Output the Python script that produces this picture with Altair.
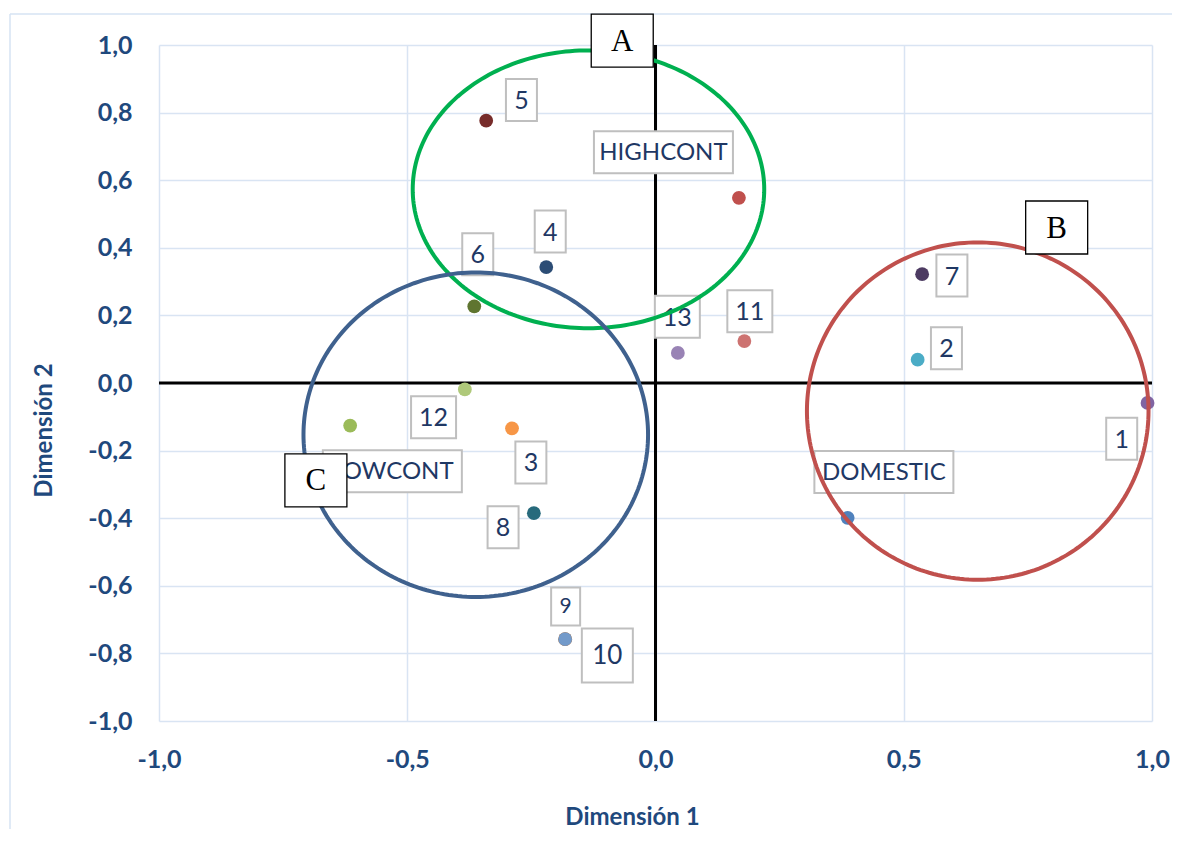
import altair as alt
import pandas as pd
import numpy as np

# ---- data ----
names = ["DOMESTIC", "HIGHCONT", "LOWCONT", "1", "2", "3", "4", "5", "6", "7",
         "8", "9", "10", "11", "12", "13"]
dim1 = [0.387, 0.168, -0.615, 0.991, 0.528, -0.289, -0.220, -0.341, -0.365, 0.537,
        -0.245, -0.182, -0.182, 0.179, -0.384, 0.045]
dim2 = [-0.399, 0.548, -0.126, -0.059, 0.069, -0.134, 0.343, 0.776, 0.227, 0.322,
        -0.385, -0.758, -0.758, 0.124, -0.019, 0.089]
colors = ["#4F81BD", "#C0504D", "#9BBB59", "#8064A2", "#4BACC6", "#F79646",
          "#2C4D75", "#772C2A", "#5F7530", "#4D3B62", "#276A7C", "#B65708",
          "#729ACA", "#CD7371", "#AFC97A", "#9983B5"]

# label anchor positions (data units)
label_x = [0.460, 0.016, -0.530, 0.939, 0.586, -0.251, -0.212, -0.270, -0.358, 0.597,
           -0.307, -0.181, -0.097, 0.190, -0.447, 0.044]
label_y = [-0.263, 0.683, -0.261, -0.165, 0.103, -0.235, 0.448, 0.837, 0.381, 0.318,
           -0.427, -0.661, -0.806, 0.212, -0.101, 0.196]
label_kind = ["word", "word", "word", "one", "one", "one", "one", "one", "one", "one",
              "one", "small", "big", "two", "two", "two"]

# group ellipses
groups = ["A", "B", "C"]
ell_cx = [-0.135, 0.649, -0.362]
ell_cy = [0.573, -0.083, -0.153]
ell_rx = [0.354, 0.344, 0.347]
ell_ry = [0.411, 0.499, 0.480]
ell_colors = ["#00B050", "#C0504D", "#3F618E"]
tag_x = [-0.067, 0.808, -0.684]
tag_y = [1.013, 0.460, -0.288]

x_ticks = [-1.0, -0.5, 0.0, 0.5, 1.0]
y_ticks = [-1.0, -0.8, -0.6, -0.4, -0.2, 0.0, 0.2, 0.4, 0.6, 0.8, 1.0]

# ---- tables ----
pts = pd.DataFrame({"name": names, "d1": dim1, "d2": dim2, "col": colors,
                    "lx": label_x, "ly": label_y, "kind": label_kind})

t = np.linspace(0, 2 * np.pi, 241)
rows = []
for g, cx, cy, rx, ry in zip(groups, ell_cx, ell_cy, ell_rx, ell_ry):
    for i, tt in enumerate(t):
        rows.append({"g": g, "i": i, "x": cx + rx * np.cos(tt), "y": cy + ry * np.sin(tt)})
ell = pd.DataFrame(rows)
tags = pd.DataFrame({"g": groups, "x": tag_x, "y": tag_y})

xs = alt.Scale(domain=[-1, 1], nice=False, zero=False)
ys = alt.Scale(domain=[-1, 1], nice=False, zero=False)

TICK_COL = "#1F497D"
LAB_COL = "#1F3864"
FONT = "Lato"

lab_expr = "(datum.value < 0 ? '-' : '') + replace(format(abs(datum.value), '.1f'), '.', ',')"

x_axis = alt.Axis(values=x_ticks, labelExpr=lab_expr, title="Dimensión 1",
                  grid=True, gridColor="#D9E4F3", gridWidth=1.5, domain=False, ticks=False,
                  labelFont=FONT, labelFontWeight="bold", labelFontSize=25, labelColor=TICK_COL,
                  labelPadding=26, labelFlush=False,
                  titleFont=FONT, titleFontWeight="bold", titleFontSize=24, titleColor=TICK_COL,
                  titleX=473, titleY=96, titleAlign="center", titleBaseline="middle")
y_axis = alt.Axis(values=y_ticks, labelExpr=lab_expr, title="Dimensión 2",
                  grid=True, gridColor="#D9E4F3", gridWidth=1.5, domain=False, ticks=False,
                  labelFont=FONT, labelFontWeight="bold", labelFontSize=25, labelColor=TICK_COL,
                  labelPadding=27, labelFlush=False,
                  titleFont=FONT, titleFontWeight="bold", titleFontSize=24, titleColor=TICK_COL,
                  titleX=-115, titleY=385, titleAlign="center", titleBaseline="middle",
                  titleAngle=270)

base = alt.Chart(pts)

# axes frame (grid) carrier
grid = base.mark_point(opacity=0).encode(
    x=alt.X("d1:Q", scale=xs, axis=x_axis),
    y=alt.Y("d2:Q", scale=ys, axis=y_axis),
)

zero_v = alt.Chart(pd.DataFrame({"z": [0.0]})).mark_rule(color="black", strokeWidth=3).encode(
    x=alt.X("z:Q", scale=xs))
zero_h = alt.Chart(pd.DataFrame({"z": [0.0]})).mark_rule(color="black", strokeWidth=3).encode(
    y=alt.Y("z:Q", scale=ys))

points = base.mark_circle(size=190, opacity=1).encode(
    x=alt.X("d1:Q", scale=xs),
    y=alt.Y("d2:Q", scale=ys),
    color=alt.Color("col:N", scale=None),
)


def box_layer(kind, w, h, fs):
    s = max(w, h)
    a, b = w / s, h / s
    path = f"M{-a},{-b}H{a}V{b}H{-a}Z"
    sub = base.transform_filter(alt.datum.kind == kind)
    box = sub.mark_point(shape=path, size=s * s, filled=True, fill="white",
                         stroke="#BFBFBF", strokeWidth=2, opacity=1).encode(
        x=alt.X("lx:Q", scale=xs), y=alt.Y("ly:Q", scale=ys))
    txt = sub.mark_text(font=FONT, fontSize=fs, color=LAB_COL, align="center",
                        baseline="middle", dy=1).encode(
        x=alt.X("lx:Q", scale=xs), y=alt.Y("ly:Q", scale=ys), text="name:N")
    return [box, txt]


labels = []
labels += box_layer("word", 139, 42, 24)
labels += box_layer("one", 31, 42, 25)
labels += box_layer("two", 45, 42, 25)
labels += box_layer("small", 29, 38, 21)
labels += box_layer("big", 51, 54, 26)

ellipses = alt.Chart(ell).mark_line(strokeWidth=4).encode(
    x=alt.X("x:Q", scale=xs),
    y=alt.Y("y:Q", scale=ys),
    detail="g:N",
    order="i:Q",
    color=alt.Color("g:N", scale=alt.Scale(domain=groups, range=ell_colors), legend=None),
)

tag_path = f"M-1,{-53/62}H1V{53/62}H-1Z"
tag_box = alt.Chart(tags).mark_point(shape=tag_path, size=62 * 62, filled=True, fill="white",
                                     stroke="black", strokeWidth=1.3, opacity=1).encode(
    x=alt.X("x:Q", scale=xs), y=alt.Y("y:Q", scale=ys))
tag_txt = alt.Chart(tags).mark_text(font="Liberation Serif", fontSize=31, color="black",
                                    align="center", baseline="middle", dy=1).encode(
    x=alt.X("x:Q", scale=xs), y=alt.Y("y:Q", scale=ys), text="g:N")

frame_top = alt.Chart(pd.DataFrame({"z": [0]})).mark_rule(color="#D6E3F3", strokeWidth=1.5).encode(
    x=alt.value(-149), x2=alt.value(1200), y=alt.value(-31))
frame_left = alt.Chart(pd.DataFrame({"z": [0]})).mark_rule(color="#D6E3F3", strokeWidth=1.5).encode(
    x=alt.value(-149), y=alt.value(-31), y2=alt.value(900))

chart = alt.layer(
    grid, frame_top, frame_left, zero_v, zero_h, points, *labels, ellipses, tag_box, tag_txt
).properties(
    width=993, height=676,
    padding={"left": 151, "top": 37, "right": 20, "bottom": 108},
    autosize=alt.AutoSizeParams(type="none"),
    background="white",
).configure_view(stroke=None)

chart.save("out.html", embed_options={"renderer": "svg", "actions": False})
